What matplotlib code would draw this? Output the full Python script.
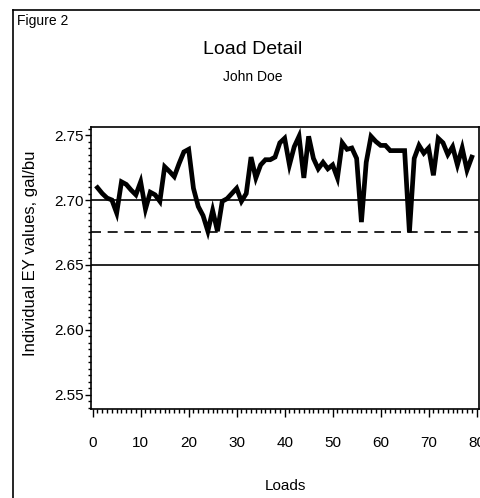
import matplotlib
matplotlib.use("Agg")
import matplotlib.pyplot as plt
from matplotlib.lines import Line2D
from matplotlib.ticker import MultipleLocator

plt.rcParams['font.family'] = ['Liberation Sans', 'DejaVu Sans']

loads = list(range(1, 80))
ey_values = [
    2.7095, 2.705, 2.7015, 2.700, 2.690, 2.714, 2.712, 2.7077, 2.704, 2.714,
    2.693, 2.706, 2.704, 2.699, 2.7256, 2.722, 2.718, 2.728, 2.737, 2.739,
    2.709, 2.695, 2.688, 2.676, 2.692, 2.676, 2.699, 2.701, 2.705, 2.709,
    2.699, 2.705, 2.733, 2.717, 2.727, 2.731, 2.731, 2.733, 2.744, 2.7475,
    2.727, 2.741, 2.749, 2.717, 2.749, 2.732, 2.724, 2.729, 2.724, 2.727,
    2.717, 2.744, 2.739, 2.740, 2.732, 2.683, 2.729, 2.749, 2.745, 2.742,
    2.742, 2.738, 2.738, 2.738, 2.738, 2.675, 2.732, 2.742, 2.736, 2.740,
    2.719, 2.7475, 2.744, 2.735, 2.741, 2.727, 2.740, 2.723, 2.733,
]
upper_line = 2.70
mid_dashed = 2.675
lower_line = 2.65

title = "Load Detail"
subtitle = "John Doe"
fig_label = "Figure 2"
x_label = "Loads"
y_label = "Individual EY values, gal/bu"
x_ticks = [0, 10, 20, 30, 40, 50, 60, 70, 80]
y_ticks = [2.55, 2.60, 2.65, 2.70, 2.75]

W, H = 481, 498
fig = plt.figure(figsize=(W / 100, H / 100), dpi=100)

# outer frame (left and top edges visible)
fig.add_artist(Line2D([13 / W, 13 / W], [0, 1 - 10 / H], color='black', lw=1.2,
                      transform=fig.transFigure))
fig.add_artist(Line2D([13 / W, 1], [1 - 10 / H, 1 - 10 / H], color='black', lw=1.2,
                      transform=fig.transFigure))

ax = fig.add_axes([91 / W, 1 - 409 / H, (479 - 91) / W, (409 - 126.7) / H])
ax.plot(loads, ey_values, color='black', lw=3.4, solid_joinstyle='miter')
ax.axhline(upper_line, color='black', lw=1.2)
ax.axhline(mid_dashed, color='black', lw=1.2, ls=(0, (6, 4)))
ax.axhline(lower_line, color='black', lw=1.2)

ax.set_xlim(-0.35, 80.5)
ax.set_ylim(2.5392, 2.7564)
ax.set_xticks(x_ticks)
ax.set_yticks(y_ticks)
ax.set_yticklabels([f"{v:.2f}" for v in y_ticks])
ax.xaxis.set_minor_locator(MultipleLocator(1))
ax.yaxis.set_minor_locator(MultipleLocator(0.005))
ax.tick_params(axis='x', which='major', length=6, width=1, pad=13.5, labelsize=11)
ax.tick_params(axis='x', which='minor', length=3, width=1)
ax.tick_params(axis='y', which='major', length=4, width=1, pad=1, labelsize=11)
ax.tick_params(axis='y', which='minor', length=2, width=1)
for s in ax.spines.values():
    s.set_linewidth(1.2)

ax.set_xlabel(x_label, fontsize=11, labelpad=21)
fig.text(31 / W, 1 - 253 / H, y_label, rotation=90, ha='center', va='center', fontsize=12)

fig.text(17 / W, 1 - 21 / H, fig_label, ha='left', va='center', fontsize=10)
fig.text(253 / W, 1 - 50 / H, title, ha='center', va='center', fontsize=14)
fig.text(253 / W, 1 - 77 / H, subtitle, ha='center', va='center', fontsize=10)

fig.savefig("out.png", dpi=100)
